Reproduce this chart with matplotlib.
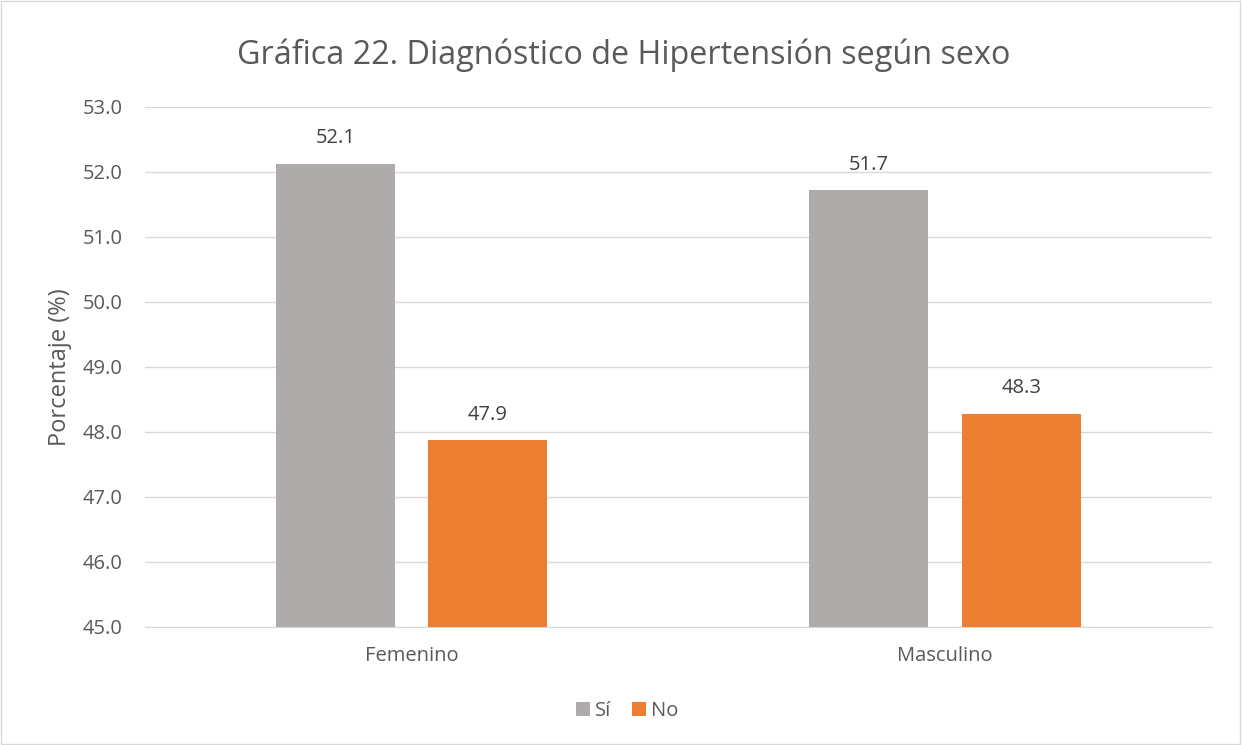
import matplotlib
matplotlib.use("Agg")
import matplotlib.pyplot as plt
import numpy as np

plt.rcParams['font.family'] = ['Open Sans', 'DejaVu Sans']

categorias = ["Femenino", "Masculino"]
series = ["Sí", "No"]
valores_si = [52.13, 51.72]
valores_no = [47.87, 48.28]
colores = ["#afabab", "#ed7d31"]
texto = "#595959"

fig = plt.figure(figsize=(12.42, 7.45), dpi=100)
ax = fig.add_axes([0.1167, 0.1584, 0.8591, 0.698])

x = np.arange(len(categorias))
ancho = 0.223
off = 0.143
b1 = ax.bar(x - off, np.array(valores_si) - 45, ancho, bottom=45, color=colores[0], label=series[0], zorder=3)
b2 = ax.bar(x + off, np.array(valores_no) - 45, ancho, bottom=45, color=colores[1], label=series[1], zorder=3)

for xs, vs in ((x - off, valores_si), (x + off, valores_no)):
    for xi, v in zip(xs, vs):
        ax.text(xi, v + 0.24, "%.1f" % v, ha="center", va="bottom", fontsize=14.5, color="#404040")

ax.set_xlim(-0.5, 1.5)
ax.set_ylim(45, 53)
ax.set_yticks(np.arange(45, 53.1, 1))
ax.set_yticklabels(["%.1f" % t for t in np.arange(45, 53.1, 1)])
ax.set_xticks(x)
ax.set_xticklabels(categorias)
ax.tick_params(axis="both", length=0, labelsize=14.5, labelcolor=texto)
ax.tick_params(axis="y", pad=16)
ax.tick_params(axis="x", pad=14)
ax.grid(axis="y", color="#d9d9d9", linewidth=1, zorder=0)
for s in ["top", "right", "left"]:
    ax.spines[s].set_visible(False)
ax.spines["bottom"].set_color("#d9d9d9")
ax.set_ylabel("Porcentaje (%)", fontsize=17, color=texto, labelpad=8)

fig.text(0.502, 0.926, "Gráfica 22. Diagnóstico de Hipertensión según sexo", ha="center", va="center",
         fontsize=23.3, color=texto)

fig.legend(handles=[b1, b2], loc="center", bbox_to_anchor=(0.505, 0.045), ncol=2, frameon=False,
           fontsize=14.5, labelcolor=texto, handlelength=0.7, handleheight=0.7, handletextpad=0.25,
           columnspacing=1.0)

fig.patches.append(plt.Rectangle((0.001, 0.001), 0.997, 0.997, transform=fig.transFigure,
                                 fill=False, edgecolor="#d9d9d9", linewidth=1))

fig.savefig("out.png", dpi=100)
